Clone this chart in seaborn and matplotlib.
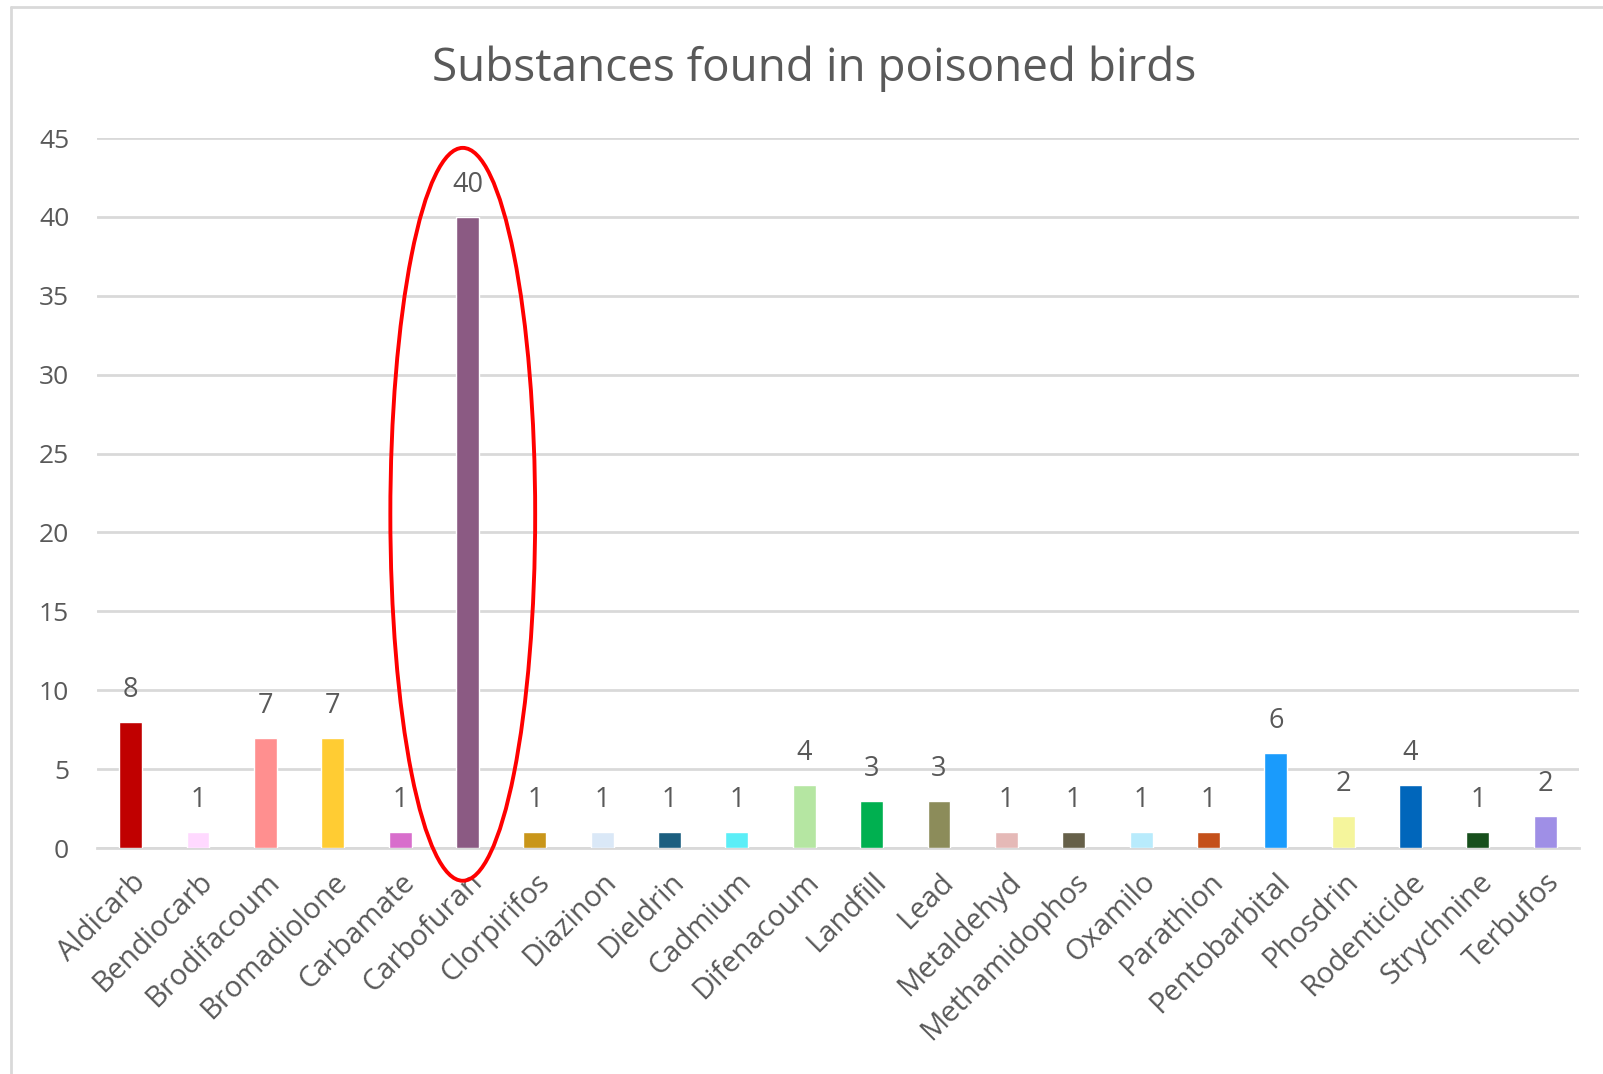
import matplotlib
matplotlib.use("Agg")
import matplotlib.pyplot as plt
import seaborn as sns
import pandas as pd
from matplotlib.patches import Ellipse
from matplotlib.lines import Line2D

# ----------------------------------------------
# Data
# ----------------------------------------------
SUBSTANCES = [
    "Aldicarb", "Bendiocarb", "Brodifacoum", "Bromadiolone", "Carbamate",
    "Carbofuran", "Clorpirifos", "Diazinon", "Dieldrin", "Cadmium",
    "Difenacoum", "Landfill", "Lead", "Metaldehyd", "Methamidophos",
    "Oxamilo", "Parathion", "Pentobarbital", "Phosdrin", "Rodenticide",
    "Strychnine", "Terbufos",
]
COUNTS = [8, 1, 7, 7, 1, 40, 1, 1, 1, 1, 4, 3, 3, 1, 1, 1, 1, 6, 2, 4, 1, 2]
BAR_COLORS = [
    "#C00000", "#FFD9FF", "#FF8F8F", "#FFCC33", "#D86ECC",
    "#8B5A83", "#C9961A", "#DAE8F7", "#1B5E7F", "#5BEEF7",
    "#B5E6A2", "#00B050", "#8C8C5A", "#E5B9B7", "#666049",
    "#B8EBFC", "#C4501A", "#1A9BFC", "#F5F59C", "#0066BB",
    "#174F1C", "#9F8FE6",
]
TITLE = "Substances found in poisoned birds"
HIGHLIGHT = "Carbofuran"

TEXT_COLOR = "#595959"
GRID_COLOR = "#D9D9D9"

sns.set_theme(style="white")
plt.rcParams["font.family"] = ["Open Sans", "DejaVu Sans"]

df = pd.DataFrame({"substance": SUBSTANCES, "count": COUNTS})

fig = plt.figure(figsize=(16.03, 10.74), dpi=100)
ax = fig.add_axes([0.0605, 0.2104, 0.9245, 0.6611])

sns.barplot(
    data=df, x="substance", y="count", hue="substance",
    palette=BAR_COLORS, width=0.34, legend=False, ax=ax,
    saturation=1, zorder=3,
)

ax.set_ylim(0, 45)
ax.set_xlim(-0.5, len(SUBSTANCES) - 0.5)
ax.set_yticks(range(0, 46, 5))
ax.yaxis.grid(True, color=GRID_COLOR, linewidth=2)
ax.set_axisbelow(True)
for side in ["top", "right", "left"]:
    ax.spines[side].set_visible(False)
ax.spines["bottom"].set_color(GRID_COLOR)
ax.spines["bottom"].set_linewidth(2)
ax.set_xlabel("")
ax.set_ylabel("")
ax.tick_params(axis="y", length=0, colors=TEXT_COLOR, labelsize=19, pad=20)
ax.tick_params(axis="x", length=0, colors=TEXT_COLOR, labelsize=21, pad=14)
plt.setp(ax.get_xticklabels(), rotation=45, ha="right", rotation_mode="anchor")

# value labels
for i, v in enumerate(COUNTS):
    ax.annotate(str(v), (i, v), xytext=(0, 13), textcoords="offset points",
                ha="center", va="bottom", fontsize=19.5, color=TEXT_COLOR)

# red ellipse around the highlighted bar
hi = SUBSTANCES.index(HIGHLIGHT)
ell = Ellipse((hi - 0.07, 21.15), width=2.15, height=46.45, fill=False,
              edgecolor="#FF0000", linewidth=2.8, clip_on=False, zorder=5)
ax.add_patch(ell)

fig.text(0.508, 0.936, TITLE, ha="center", va="center",
         fontsize=33, color=TEXT_COLOR)

# light border of the chart frame (left and top edges)
fig.add_artist(Line2D([0.0068, 0.0068], [0.0, 0.9935], color=GRID_COLOR,
                      linewidth=2, transform=fig.transFigure))
fig.add_artist(Line2D([0.0068, 1.0], [0.9935, 0.9935], color=GRID_COLOR,
                      linewidth=2, transform=fig.transFigure))

fig.savefig("out.png", dpi=100, facecolor="white")
plt.close(fig)
